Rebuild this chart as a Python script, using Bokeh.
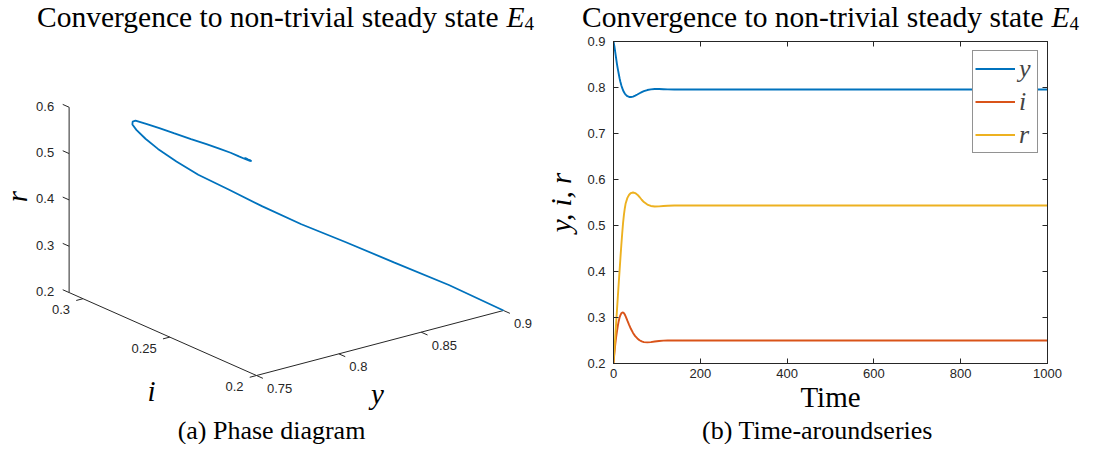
import numpy as np
from bokeh.plotting import figure
from bokeh.models import (Range1d, Legend, LegendItem, LinearAxis,
                          FixedTicker, CustomJSTickFormatter)
from bokeh.layouts import row, column
from bokeh.embed import file_html
from bokeh.resources import INLINE
from bokeh.core.properties import value

# ---------------- data ----------------
t_vals = [0, 2, 4, 6, 8, 10, 12, 14, 16, 18,
          20, 22, 24, 26, 28, 32, 36, 40, 45, 50,
          55, 60, 65, 70, 78, 86, 95, 105, 115, 125,
          140, 160, 200, 300, 400, 500, 600, 700, 800, 900, 1000]
y_vals = [0.900, 0.890, 0.877, 0.864, 0.851, 0.840, 0.830, 0.820, 0.812, 0.805,
          0.799, 0.794, 0.790, 0.787, 0.7845, 0.781, 0.7795, 0.7793, 0.7803, 0.7823,
          0.7848, 0.7875, 0.7899, 0.7920, 0.7945, 0.7960, 0.7967, 0.7966, 0.7963, 0.7960,
          0.7957, 0.7956, 0.7955, 0.7955, 0.7955, 0.7955, 0.7955, 0.7955, 0.7955, 0.7955, 0.7955]
i_vals = [0.200, 0.222, 0.241, 0.257, 0.270, 0.282, 0.292, 0.300, 0.305, 0.309,
          0.3105, 0.311, 0.3095, 0.3065, 0.3025, 0.293, 0.284, 0.2755, 0.2665, 0.2595,
          0.2545, 0.2505, 0.248, 0.2465, 0.246, 0.2465, 0.2478, 0.249, 0.2497, 0.2501,
          0.2502, 0.2501, 0.2500, 0.2500, 0.2500, 0.2500, 0.2500, 0.2500, 0.2500, 0.2500, 0.2500]
r_vals = [0.200, 0.228, 0.257, 0.287, 0.316, 0.345, 0.374, 0.402, 0.430, 0.457,
          0.482, 0.505, 0.523, 0.537, 0.548, 0.560, 0.567, 0.5705, 0.5718, 0.5705,
          0.567, 0.562, 0.556, 0.551, 0.5455, 0.5425, 0.5413, 0.5415, 0.5424, 0.5430,
          0.5434, 0.5435, 0.5435, 0.5435, 0.5435, 0.5435, 0.5435, 0.5435, 0.5435, 0.5435, 0.5435]

series_names = ["y", "i", "r"]
series_colors = ["#0072BD", "#D95319", "#EDB120"]

time_ticks = [0, 200, 400, 600, 800, 1000]
value_ticks = [0.2, 0.3, 0.4, 0.5, 0.6, 0.7, 0.8, 0.9]
y_ticks3d = [0.75, 0.8, 0.85, 0.9]
i_ticks3d = [0.2, 0.25, 0.3]
r_ticks3d = [0.2, 0.3, 0.4, 0.5, 0.6]
y_lim3d = [0.75, 0.9]
i_lim3d = [0.2, 0.308]
r_lim3d = [0.2, 0.6]

title_main = "Convergence to non-trivial steady state"
title_sym = "E"
title_sub = "4"
caption_a = "(a) Phase diagram"
caption_b = "(b) Time-aroundseries"
xlabel_b = "Time"
ylabel_b = "y, i, r"
labels3d = ["y", "i", "r"]

# ---------------- styles / layout ----------------
SERIF = "Liberation Serif"
SANS = "Liberation Sans"
INK = "#262626"
FS_TITLE = 29.5
FS_SUB = 19
FS_BIG = 29
FS_CAP = 26
FS_TICK = "13px"
MID_SHIFT = 0.32  # baseline -> middle of the em box, in em
TOTAL_W, TOTAL_H = 1080, 444
TOP_H = 33
MID_H = 382
BOT_H = TOTAL_H - TOP_H - MID_H
L_W = 537
R_W = TOTAL_W - L_W
FR_L, FR_R, FR_T, FR_B = 613, 1047, 41, 363


def canvas(w, h, x0, y0):
    f = figure(width=w, height=h, x_range=Range1d(x0, x0 + w), y_range=Range1d(y0 + h, y0),
               output_backend="svg", toolbar_location=None, x_axis_type=None, y_axis_type=None,
               min_border=0, outline_line_color=None, title=None)
    f.frame_align = False
    return f


def txt(f, x, mid, s, size, style="normal", align="center", angle=0.0):
    # `mid` is the middle of the text's em box
    if angle == 0.0:
        xx, yy = x, mid
    else:
        xx, yy = mid, x
    f.text([xx], [yy], text=[s], text_font=value(SERIF), text_font_style=style,
           text_font_size=f"{size}px", text_color="black", text_align=align,
           text_baseline="middle", angle=angle)


# ======================= title strip =======================
top = canvas(TOTAL_W, TOP_H, 0, 0)
W_MAIN = 15.664 * FS_TITLE
W_SP = 0.25 * FS_TITLE
W_E = 0.611 * FS_TITLE
W_SUB = 0.5 * FS_SUB
W_TOT = W_MAIN + W_SP + W_E + W_SUB
TMID = 16.5
for cx in (285, (FR_L + FR_R) / 2):
    s = cx - W_TOT / 2
    txt(top, s, TMID, title_main, FS_TITLE, align="left")
    txt(top, s + W_MAIN + W_SP, TMID, title_sym, FS_TITLE, style="italic", align="left")
    txt(top, s + W_MAIN + W_SP + W_E, TMID + 3.0 + MID_SHIFT * (FS_TITLE - FS_SUB), title_sub,
        FS_SUB, align="left")

# ======================= left panel: 3-D phase diagram =======================
p1 = canvas(L_W, MID_H, 0, TOP_H)

O3 = (256.0, 375.0)
VY = (1646.7, -433.3)
VI = (-1735.0, -768.0)
VR = (0.0, -463.3)


def proj(a, b, c):
    a = np.asarray(a, float)
    b = np.asarray(b, float)
    c = np.asarray(c, float)
    X = O3[0] + VY[0] * (a - y_lim3d[0]) + VI[0] * (b - i_lim3d[0]) + VR[0] * (c - r_lim3d[0])
    Y = O3[1] + VY[1] * (a - y_lim3d[0]) + VI[1] * (b - i_lim3d[0]) + VR[1] * (c - r_lim3d[0])
    return X, Y


y0, y1 = y_lim3d
i0, i1 = i_lim3d
r0, r1 = r_lim3d
for a, b, c in (((y0, y1), (i0, i0), (r0, r0)),
                ((y0, y0), (i0, i1), (r0, r0)),
                ((y0, y0), (i1, i1), (r0, r1))):
    X, Y = proj(a, b, c)
    p1.line(X, Y, line_color=INK, line_width=1)

TL = 7.0
di = TL / np.hypot(*VI)
dy = TL / np.hypot(*VY)

n = len(y_ticks3d)
xa, ya_ = proj(y_ticks3d, [i0] * n, [r0] * n)
xb, yb = proj(y_ticks3d, [i0 - di] * n, [r0] * n)
p1.segment(xa, ya_, xb, yb, line_color=INK, line_width=1)
p1.text(xa + 10.5, ya_ + 13, text=[f"{v:g}" for v in y_ticks3d], text_font=value(SANS),
        text_font_size=FS_TICK, text_color=INK, text_align="left", text_baseline="middle")

n = len(i_ticks3d)
xa, ya_ = proj([y0] * n, i_ticks3d, [r0] * n)
xb, yb = proj([y0 - dy] * n, i_ticks3d, [r0] * n)
p1.segment(xa, ya_, xb, yb, line_color=INK, line_width=1)
p1.text(xa - 13, ya_ + 11, text=[f"{v:g}" for v in i_ticks3d], text_font=value(SANS),
        text_font_size=FS_TICK, text_color=INK, text_align="right", text_baseline="middle")

n = len(r_ticks3d)
xa, ya_ = proj([y0] * n, [i1] * n, r_ticks3d)
xb, yb = proj([y0] * n, [i1 + di] * n, r_ticks3d)
p1.segment(xa, ya_, xb, yb, line_color=INK, line_width=1)
p1.text(xa - 15, ya_ - 1, text=[f"{v:g}" for v in r_ticks3d], text_font=value(SANS),
        text_font_size=FS_TICK, text_color=INK, text_align="right", text_baseline="middle")

TX, TY = proj(y_vals, i_vals, r_vals)
p1.line(TX, TY, line_color=series_colors[0], line_width=1.8)

txt(p1, 377, 393.7, labels3d[0], FS_BIG, style="italic")
txt(p1, 151, 390.7, labels3d[1], FS_BIG, style="italic")
txt(p1, 196, 16.3, labels3d[2], FS_BIG, style="italic", angle=np.pi / 2)

# ======================= right panel: time series =======================
p2 = figure(width=R_W, height=MID_H, x_range=Range1d(0, 1000), y_range=Range1d(0.2, 0.9),
            output_backend="svg", toolbar_location=None, title=None,
            min_border_left=FR_L - L_W, min_border_right=TOTAL_W - FR_R,
            min_border_top=FR_T - TOP_H, min_border_bottom=TOP_H + MID_H - FR_B)
p2.frame_align = False
p2.xgrid.grid_line_color = None
p2.ygrid.grid_line_color = None
p2.outline_line_color = INK

renderers = []
for vals, col in zip([y_vals, i_vals, r_vals], series_colors):
    renderers.append(p2.line(t_vals, vals, line_color=col, line_width=1.9))

xa2 = p2.xaxis[0]
ya2 = p2.yaxis[0]
for ax, ticks in ((xa2, time_ticks), (ya2, value_ticks)):
    ax.ticker = FixedTicker(ticks=ticks)
    ax.major_tick_in = 5
    ax.major_tick_out = 0
    ax.minor_tick_line_color = None
    ax.axis_line_color = INK
    ax.major_tick_line_color = INK
    ax.major_label_text_font = SANS
    ax.major_label_text_font_size = FS_TICK
    ax.major_label_text_color = INK
    ax.axis_label_text_font = SERIF
    ax.axis_label_text_font_size = f"{FS_BIG}px"
    ax.axis_label_text_color = "black"
xa2.axis_label = xlabel_b
xa2.axis_label_text_font_style = "normal"
xa2.major_label_standoff = 5
xa2.axis_label_standoff = 0
ya2.axis_label = ylabel_b
ya2.axis_label_text_font_style = "italic"
ya2.major_label_standoff = 8
ya2.axis_label_standoff = 7

blank = CustomJSTickFormatter(code="return ''")
for place, ticks in (("above", time_ticks), ("right", value_ticks)):
    ax = LinearAxis(ticker=FixedTicker(ticks=ticks), formatter=blank, major_tick_in=5,
                    major_tick_out=0, minor_tick_line_color=None, axis_line_color=INK,
                    major_tick_line_color=INK, major_label_standoff=0,
                    major_label_text_font_size="1px")
    p2.add_layout(ax, place)

legend = Legend(items=[LegendItem(label=nm, renderers=[rd]) for nm, rd in zip(series_names, renderers)],
                location="top_right", margin=9, padding=2, spacing=2,
                glyph_width=40, glyph_height=31, label_height=31, label_width=16, label_standoff=4,
                label_text_font=SERIF, label_text_font_style="italic", label_text_font_size="26px",
                border_line_color=INK, border_line_width=1,
                background_fill_color="white", background_fill_alpha=1.0)
p2.add_layout(legend)

# ======================= caption strip =======================
bot = canvas(TOTAL_W, BOT_H, 0, TOP_H + MID_H)
CMID = TOP_H + MID_H + BOT_H / 2
txt(bot, 271, CMID, caption_a, FS_CAP)
txt(bot, 817, CMID, caption_b, FS_CAP)

layout = column(top, row(p1, p2), bot)
open("out.html", "w").write(file_html(layout, INLINE))
